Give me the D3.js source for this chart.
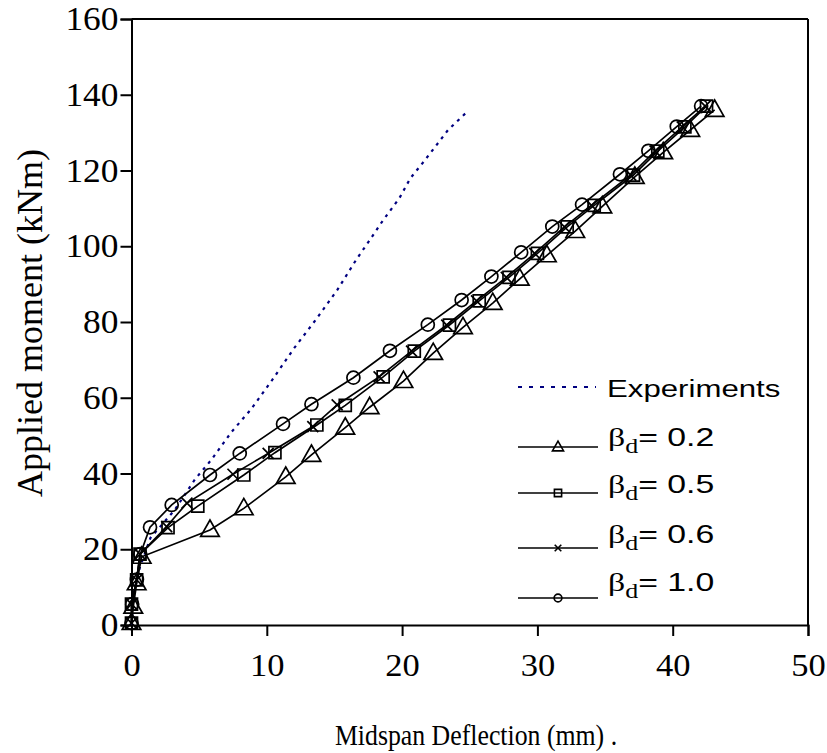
<!DOCTYPE html>
<html>
<head>
<meta charset="utf-8">
<script src="https://cdn.jsdelivr.net/npm/d3@7"></script>
<style>
  body { margin: 0; background: #fff; }
  .tick text { font-family: "Liberation Serif", "Times New Roman", serif; font-size: 30px; fill: #000; }
</style>
</head>
<body>
<svg id="chart" width="827" height="753"></svg>
<script>
// axis ticks
let xTicks = [0, 10, 20, 30, 40, 50];
let yTicks = [0, 20, 40, 60, 80, 100, 120, 140, 160];

// experiments (dotted)
let expX = [0, 0.15, 0.6, 1.4, 3.2, 4.7, 5.9, 7.4, 8.8, 10.4, 12.0, 13.6, 15.2, 16.6, 17.6, 18.6, 19.8, 20.6, 21.7, 23.4, 24.8];
let expY = [0, 8, 15, 23, 30.4, 38.5, 43.6, 51, 56.8, 64.7, 73, 80.5, 88.4, 96.4, 101.6, 106.9, 112.7, 117.9, 122.8, 130.7, 135.5];

// beta_d = 0.2 (triangles)
let b02X = [0, 0.13, 0.38, 0.75, 5.8, 8.3, 11.4, 13.3, 15.8, 17.6, 20.1, 22.3, 24.5, 26.7, 28.7, 30.7, 32.8, 34.8, 37.2, 39.3, 41.3, 43.1];
let b02Y = [0.5, 4.8, 11, 18, 25.1, 30.8, 39.1, 44.9, 52.1, 57.5, 64.4, 71.8, 78.6, 85, 91.4, 97.6, 104, 110.5, 118.3, 124.8, 130.7, 136];

// beta_d = 0.5 (squares)
let b05X = [0, 0, 0.38, 0.63, 2.7, 4.9, 8.3, 10.6, 13.7, 15.8, 18.6, 20.9, 23.5, 25.7, 27.9, 30.0, 32.2, 34.2, 37.1, 38.9, 40.9, 42.5];
let b05Y = [0.5, 5.5, 11.9, 18.7, 25.7, 31.4, 39.6, 45.5, 52.8, 58, 65.5, 72.3, 79.2, 85.6, 91.8, 98.1, 105.1, 110.8, 118.8, 125.1, 131.5, 137];

// beta_d = 0.6 (crosses)
let b06X = [0, 0, 0.38, 0.63, 2.6, 4.1, 7.5, 10.1, 13.4, 15.2, 18.3, 20.7, 23.3, 25.5, 27.7, 29.8, 32.0, 34.0, 36.9, 38.7, 40.7, 42.4];
let b06Y = [0.5, 5.5, 11.9, 18.7, 26, 32.2, 39.8, 45.3, 52.4, 58.1, 65.5, 72.3, 79.2, 85.6, 91.8, 98.1, 105.1, 110.8, 118.8, 125.1, 131.5, 137];

// beta_d = 1.0 (circles)
let b10X = [0, 0.05, 0.4, 0.65, 1.37, 2.97, 5.8, 8.0, 11.2, 13.3, 16.4, 19.1, 21.9, 24.4, 26.6, 28.8, 31.1, 33.3, 36.1, 38.2, 40.3, 42.1];
let b10Y = [0.5, 5.5, 12, 18.7, 25.8, 31.7, 39.6, 45.3, 53.1, 58.3, 65.3, 72.4, 79.3, 85.8, 92, 98.4, 105.2, 111, 119, 125.2, 131.6, 137];

let legendLabels = ["0.2", "0.5", "0.6", "1.0"];

let svg = d3.select("#chart");

let x = d3.scaleLinear().domain([0, 50]).range([131.5, 808]);
let y = d3.scaleLinear().domain([0, 160]).range([625, 19]);

let serif = '"Liberation Serif", "Times New Roman", serif';
let sans = '"Liberation Sans", Arial, sans-serif';

// axes
let xAxis = svg.append("g")
    .attr("transform", "translate(0," + y(0) + ")")
    .call(d3.axisBottom(x).tickValues(xTicks).tickSize(11).tickPadding(19).tickFormat(d3.format("d")));
let yAxis = svg.append("g")
    .attr("transform", "translate(" + x(0) + ",0)")
    .call(d3.axisLeft(y).tickValues(yTicks).tickSize(11).tickPadding(2).tickFormat(d3.format("d")));

[xAxis, yAxis].forEach(function (a) {
    a.select(".domain").attr("stroke", "#000").attr("stroke-width", 2);
    a.selectAll(".tick line").attr("stroke", "#000").attr("stroke-width", 2);
});
// tick labels look a bit wider than plain Times
xAxis.selectAll(".tick text").attr("transform", "scale(1.15,1.08)").attr("y", 26);
yAxis.selectAll(".tick text").each(function () {
    let t = d3.select(this);
    t.attr("transform", "translate(-13,0) scale(1.18,1.1)").attr("x", 0);
});

// frame top / right
svg.append("line")
    .attr("x1", x(0)).attr("x2", x(50)).attr("y1", y(160)).attr("y2", y(160))
    .attr("stroke", "#000").attr("stroke-width", 2);
svg.append("line")
    .attr("x1", x(50)).attr("x2", x(50)).attr("y1", y(160)).attr("y2", y(0))
    .attr("stroke", "#000").attr("stroke-width", 2);

// axis titles
svg.append("text")
    .attr("transform", "translate(476,745) scale(0.86,1)")
    .attr("text-anchor", "middle")
    .style("font-family", serif).style("font-size", "30px")
    .text("Midspan Deflection (mm)  .");
svg.append("text")
    .attr("transform", "translate(42,323) rotate(-90)")
    .attr("text-anchor", "middle")
    .style("font-family", serif).style("font-size", "36px")
    .text("Applied moment (kNm)");

let line = d3.line().x(d => x(d[0])).y(d => y(d[1]));

// experiments
svg.append("path")
    .datum(d3.zip(expX, expY))
    .attr("d", line)
    .attr("fill", "none")
    .attr("stroke", "#000080")
    .attr("stroke-width", 2.2)
    .attr("stroke-dasharray", "3,5");

// marker shapes
function marker(type, s) {
    if (type == "tri") return "M0," + (-s * 0.62) + "L" + (s * 0.58) + "," + (s * 0.4) + "L" + (-s * 0.58) + "," + (s * 0.4) + "Z";
    if (type == "sq") return "M" + (-s / 2) + "," + (-s / 2) + "h" + s + "v" + s + "h" + (-s) + "Z";
    if (type == "x") return "M" + (-s / 2) + "," + (-s / 2) + "L" + (s / 2) + "," + (s / 2) + "M" + (s / 2) + "," + (-s / 2) + "L" + (-s / 2) + "," + (s / 2);
    let r = s / 2;
    return "M" + r + ",0A" + r + "," + r + " 0 1,1 " + (-r) + ",0A" + r + "," + r + " 0 1,1 " + r + ",0Z";
}

let series = [
    { xs: b02X, ys: b02Y, type: "tri", size: 16 },
    { xs: b05X, ys: b05Y, type: "sq", size: 12 },
    { xs: b06X, ys: b06Y, type: "x", size: 11 },
    { xs: b10X, ys: b10Y, type: "circ", size: 13 }
];

series.forEach(function (s) {
    let pts = d3.zip(s.xs, s.ys);
    svg.append("path")
        .datum(pts)
        .attr("d", line)
        .attr("fill", "none")
        .attr("stroke", "#000")
        .attr("stroke-width", 1.7);
    svg.selectAll(null)
        .data(pts)
        .enter()
        .append("path")
        .attr("d", marker(s.type, s.size))
        .attr("transform", d => "translate(" + x(d[0]) + "," + y(d[1]) + ")")
        .attr("fill", "none")
        .attr("stroke", "#000")
        .attr("stroke-width", 1.7);
});

// legend (text in the picture is stretched sideways)
let lg = svg.append("g");
lg.append("line")
    .attr("x1", 518).attr("x2", 596).attr("y1", 387).attr("y2", 387)
    .attr("stroke", "#000080").attr("stroke-width", 2).attr("stroke-dasharray", "4,7");
lg.append("text")
    .attr("transform", "translate(607,397) scale(1.3,1)")
    .style("font-family", sans).style("font-size", "24px")
    .text("Experiments");

let rowLine = [447, 493, 548, 598];
let rowText = [446, 493, 543, 591];
series.forEach(function (s, i) {
    lg.append("line")
        .attr("x1", 518).attr("x2", 598).attr("y1", rowLine[i]).attr("y2", rowLine[i])
        .attr("stroke", "#000").attr("stroke-width", 1.6);
    lg.append("path")
        .attr("d", marker(s.type, s.size * 0.6))
        .attr("transform", "translate(" + 558 + "," + rowLine[i] + ")")
        .attr("fill", "none").attr("stroke", "#000").attr("stroke-width", 1.6);
    let t = lg.append("text")
        .attr("transform", "translate(608," + rowText[i] + ") scale(1.3,1)")
        .style("font-size", "26px");
    t.append("tspan").style("font-family", serif).text("\u03b2");
    t.append("tspan").style("font-family", serif).style("font-size", "20px").attr("dy", 7).text("d");
    t.append("tspan").style("font-family", sans).attr("dy", -7).text("= " + legendLabels[i]);
});
</script>
</body>
</html>
